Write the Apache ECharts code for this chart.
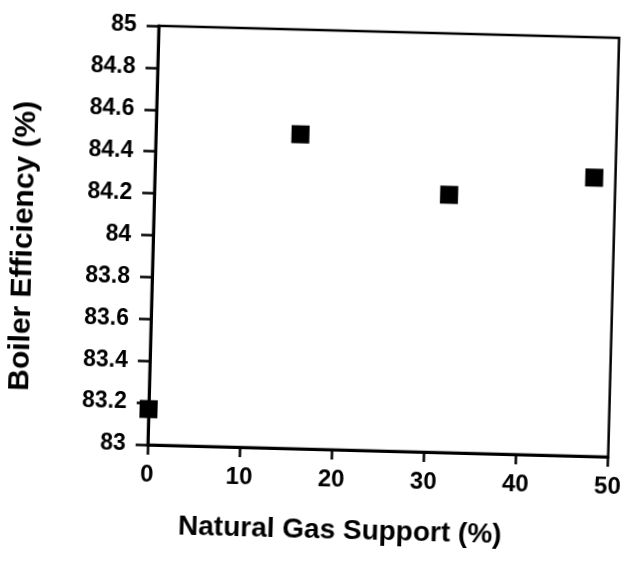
<!DOCTYPE html>
<html>
<head>
<meta charset="utf-8">
<script src="https://cdn.jsdelivr.net/npm/echarts@6/dist/echarts.min.js"></script>
<style>
  html, body { margin: 0; padding: 0; background: #fff; overflow: hidden; }
  #chart {
    width: 629px; height: 561px;
    transform: rotate(1.5deg);
    transform-origin: 50% 50%;
  }
</style>
</head>
<body>
<div id="chart"></div>
<script>
// Natural gas support share (%) and measured boiler efficiency (%)
const gasSupport = [0, 15.7, 32.0, 47.7];
const boilerEfficiency = [83.17, 84.50, 84.23, 84.33];
const xTicks = [0, 10, 20, 30, 40, 50];
const yTicks = [83, 83.2, 83.4, 83.6, 83.8, 84, 84.2, 84.4, 84.6, 84.8, 85];

const points = gasSupport.map((x, i) => [x, boilerEfficiency[i]]);
const font = 'Liberation Sans, Arial, Helvetica, sans-serif';

const chart = echarts.init(document.getElementById('chart'), null, { renderer: 'canvas' });
chart.setOption({
  animation: false,
  backgroundColor: '#fff',
  grid: {
    left: 152, right: 8, top: 30, bottom: 112,
    show: true, borderColor: '#000', borderWidth: 2.5, backgroundColor: 'transparent'
  },
  xAxis: {
    type: 'value',
    min: xTicks[0], max: xTicks[xTicks.length - 1], interval: 10,
    name: 'Natural Gas Support (%)',
    nameLocation: 'middle', nameGap: 67,
    nameTextStyle: {
      fontFamily: font, fontWeight: 'bold', fontSize: 28, color: '#000',
      padding: [0, 72, 0, 0]
    },
    axisLine: { show: true, lineStyle: { color: '#000', width: 3 } },
    axisTick: { show: true, inside: false, length: 10, lineStyle: { color: '#000', width: 2.5 } },
    axisLabel: { fontFamily: font, fontWeight: 'bold', fontSize: 24, color: '#000', margin: 18 },
    splitLine: { show: false }
  },
  yAxis: {
    type: 'value',
    min: yTicks[0], max: yTicks[yTicks.length - 1], interval: 0.2,
    name: 'Boiler Efficiency (%)',
    nameLocation: 'middle', nameGap: 114,
    nameTextStyle: {
      fontFamily: font, fontWeight: 'bold', fontSize: 30, color: '#000',
      padding: [0, 28, 0, 0]
    },
    axisLine: { show: true, lineStyle: { color: '#000', width: 3 } },
    axisTick: { show: true, inside: false, length: 12, lineStyle: { color: '#000', width: 2.5 } },
    axisLabel: {
      fontFamily: font, fontWeight: 'bold', fontSize: 23, color: '#000', margin: 22,
      formatter: v => String(Math.round(v * 10) / 10)
    },
    splitLine: { show: false }
  },
  series: [{
    type: 'scatter',
    data: points,
    symbol: 'rect',
    symbolSize: 18,
    itemStyle: { color: '#000', opacity: 1 }
  }]
});
</script>
</body>
</html>
